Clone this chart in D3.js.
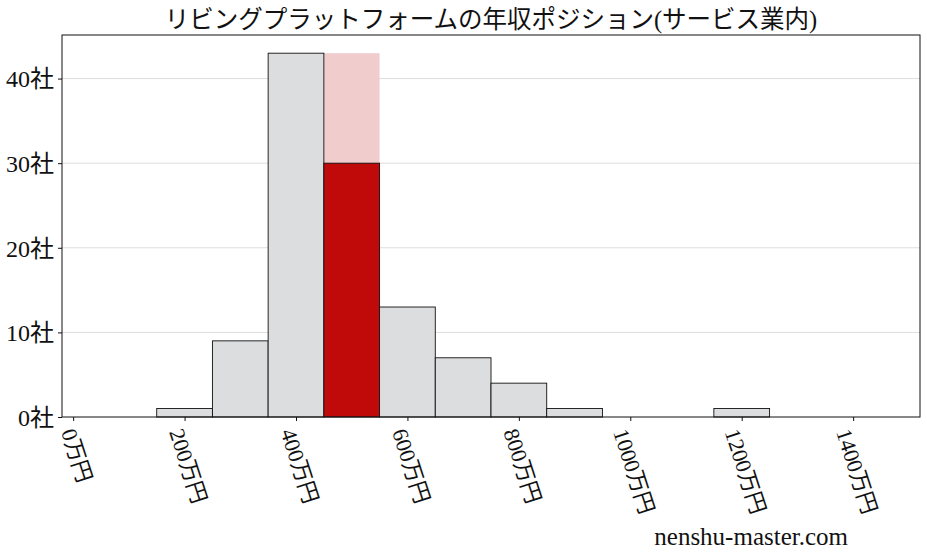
<!DOCTYPE html>
<html lang="ja">
<head>
<meta charset="utf-8">
<title>年収ポジション</title>
<script src="https://d3js.org/d3.v7.min.js"></script>
<style>
  body { margin: 0; background: #fff; }
  text { font-family: "Liberation Serif", "Noto Sans CJK JP", serif; fill: #111; }
</style>
</head>
<body>
<div id="chart"></div>
<script>
// bin left edges (万円), width 100
const binStarts = [150, 250, 350, 450, 550, 650, 750, 850, 950, 1050, 1150, 1250, 1350];
const counts    = [1, 9, 43, 30, 13, 7, 4, 1, 0, 0, 1, 0, 0];
const highlightBin = 450;     // the company's bin
const highlightBack = 43;     // pale bar behind it
const xTicks = [0, 200, 400, 600, 800, 1000, 1200, 1400];
const yTicks = [0, 10, 20, 30, 40];
const title = "リビングプラットフォームの年収ポジション(サービス業内)";

const W = 927, H = 557;
const margin = {top: 35, right: 7, bottom: 140, left: 62};
const width = W - margin.left - margin.right,
      height = H - margin.top - margin.bottom;

const svg = d3.select("#chart").append("svg")
    .attr("width", W).attr("height", H);

const g = svg.append("g")
    .attr("transform", `translate(${margin.left},${margin.top})`);

const x = d3.scaleLinear().domain([-20, 1520]).range([0, width]);
const y = d3.scaleLinear().domain([0, 45.15]).range([height, 0]);

// grid
g.append("g").selectAll("line")
  .data(yTicks.filter(d => d > 0))
  .join("line")
    .attr("x1", 0).attr("x2", width)
    .attr("y1", d => y(d)).attr("y2", d => y(d))
    .attr("stroke", "#dddddd").attr("stroke-width", 1);

const bins = binStarts.map((s, i) => ({x0: s, x1: s + 100, n: counts[i]}));

// pale background bar
g.append("rect")
  .attr("x", x(highlightBin)).attr("width", x(highlightBin + 100) - x(highlightBin))
  .attr("y", y(highlightBack)).attr("height", y(0) - y(highlightBack))
  .attr("fill", "#f0cccc");

g.append("g").selectAll("rect")
  .data(bins.filter(d => d.n > 0))
  .join("rect")
    .attr("x", d => x(d.x0))
    .attr("width", d => x(d.x1) - x(d.x0))
    .attr("y", d => y(d.n))
    .attr("height", d => y(0) - y(d.n))
    .attr("fill", d => d.x0 === highlightBin ? "#c00a0a" : "#dcdddf")
    .attr("stroke", "#111").attr("stroke-width", 0.9);

// frame
g.append("rect")
  .attr("width", width).attr("height", height)
  .attr("fill", "none").attr("stroke", "#111").attr("stroke-width", 1);

// y axis
const yAxis = g.append("g")
  .call(d3.axisLeft(y).tickValues(yTicks).tickSize(4).tickPadding(4).tickFormat(d => d + "社"));
yAxis.select(".domain").remove();
yAxis.selectAll("line").attr("stroke", "#111");
yAxis.selectAll("text").attr("font-size", 24).attr("dy", "0.35em");

// x axis
const xAxis = g.append("g")
  .attr("transform", `translate(0,${height})`)
  .call(d3.axisBottom(x).tickValues(xTicks).tickSize(4).tickFormat(d => d + "万円"));
xAxis.select(".domain").remove();
xAxis.selectAll("line").attr("stroke", "#111");
xAxis.selectAll("text")
  .attr("font-size", 22)
  .attr("text-anchor", "middle")
  .attr("dominant-baseline", "central")
  .attr("dy", null)
  .attr("y", null)
  .each(function() {
    const L = this.getComputedTextLength();
    const a = 72 * Math.PI / 180;
    const cy = 9 + (L * Math.sin(a) + 22 * Math.cos(a)) / 2;
    d3.select(this).attr("transform", `translate(3,${cy}) rotate(72)`);
  });

// title
svg.append("text")
  .attr("x", margin.left + width / 2).attr("y", 28)
  .attr("text-anchor", "middle")
  .attr("font-size", 24.5)
  .text(title);

// watermark
svg.append("text")
  .attr("x", 848).attr("y", 545)
  .attr("text-anchor", "end")
  .attr("font-size", 25)
  .text("nenshu-master.com");
</script>
</body>
</html>
